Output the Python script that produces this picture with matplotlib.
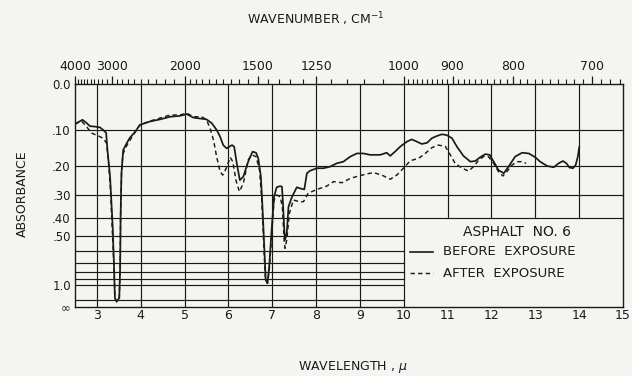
import numpy as np
import matplotlib
matplotlib.use("Agg")
import matplotlib.pyplot as plt
from matplotlib.lines import Line2D

# ---------------- data (wavelength in microns, absorbance) ----------------
wl_before = [2.50, 2.67, 2.76, 2.84, 2.95, 3.07, 3.14, 3.21, 3.24, 3.30, 3.36, 3.39, 3.41,
             3.45, 3.51, 3.53, 3.54, 3.56, 3.60, 3.68, 3.75, 3.87, 3.98, 4.21, 4.44, 4.67,
             4.89, 5.05, 5.20, 5.35, 5.50, 5.62, 5.73, 5.81, 5.88, 5.96, 6.08, 6.13, 6.19,
             6.26, 6.34, 6.45, 6.55, 6.63, 6.68, 6.74, 6.78, 6.82, 6.85, 6.89, 6.93, 6.99,
             7.04, 7.10, 7.18, 7.22, 7.24, 7.27, 7.29, 7.33, 7.37, 7.45, 7.56, 7.63, 7.73,
             7.79, 7.86, 8.02, 8.17, 8.32, 8.47, 8.62, 8.78, 8.93, 9.08, 9.23, 9.46, 9.61,
             9.69, 9.80, 9.92, 10.07, 10.18, 10.30, 10.41, 10.53, 10.64, 10.76, 10.87, 10.98,
             11.10, 11.21, 11.36, 11.52, 11.63, 11.74, 11.86, 11.96, 12.05, 12.16, 12.28,
             12.39, 12.54, 12.70, 12.85, 13.00, 13.11, 13.27, 13.42, 13.53, 13.63, 13.71,
             13.78, 13.86, 13.92, 13.97, 14.00]
abs_before = [0.086, 0.076, 0.083, 0.091, 0.092, 0.094, 0.100, 0.107, 0.152, 0.233, 0.444,
              0.743, 1.39, 1.62, 1.39, 0.743, 0.393, 0.221, 0.152, 0.134, 0.120, 0.105, 0.088,
              0.080, 0.075, 0.069, 0.067, 0.063, 0.071, 0.073, 0.075, 0.084, 0.100, 0.117,
              0.139, 0.148, 0.139, 0.143, 0.191, 0.245, 0.233, 0.186, 0.157, 0.160, 0.176,
              0.233, 0.362, 0.592, 0.917, 0.974, 0.743, 0.444, 0.306, 0.270, 0.266, 0.268,
              0.319, 0.444, 0.522, 0.481, 0.347, 0.306, 0.270, 0.274, 0.278, 0.222, 0.214,
              0.206, 0.206, 0.201, 0.191, 0.186, 0.171, 0.162, 0.162, 0.166, 0.166, 0.160,
              0.169, 0.157, 0.143, 0.130, 0.124, 0.130, 0.136, 0.133, 0.121, 0.115, 0.111,
              0.113, 0.121, 0.143, 0.169, 0.186, 0.184, 0.173, 0.164, 0.166, 0.186, 0.212,
              0.222, 0.201, 0.171, 0.160, 0.162, 0.173, 0.186, 0.199, 0.203, 0.191, 0.184,
              0.191, 0.204, 0.206, 0.196, 0.171, 0.145]

wl_after = [2.50, 2.65, 2.76, 2.88, 3.03, 3.14, 3.22, 3.26, 3.31, 3.35, 3.39, 3.41, 3.45,
            3.51, 3.53, 3.54, 3.56, 3.59, 3.64, 3.71, 3.80, 3.98, 4.21, 4.44, 4.67, 4.89,
            5.05, 5.20, 5.39, 5.50, 5.58, 5.66, 5.73, 5.81, 5.87, 5.95, 6.04, 6.10, 6.17,
            6.25, 6.34, 6.45, 6.53, 6.63, 6.71, 6.76, 6.80, 6.84, 6.89, 6.93, 6.99, 7.04,
            7.10, 7.18, 7.23, 7.27, 7.29, 7.33, 7.39, 7.48, 7.63, 7.71, 7.82, 8.02, 8.24,
            8.40, 8.59, 8.78, 8.97, 9.16, 9.31, 9.50, 9.69, 9.84, 9.99, 10.15, 10.34, 10.49,
            10.64, 10.79, 10.95, 11.06, 11.17, 11.33, 11.48, 11.59, 11.71, 11.82, 11.93,
            12.05, 12.16, 12.26, 12.35, 12.47, 12.58, 12.70, 12.79]
abs_after = [0.086, 0.079, 0.092, 0.108, 0.115, 0.121, 0.134, 0.181, 0.280, 0.462, 0.757,
             1.39, 1.62, 1.39, 0.743, 0.393, 0.228, 0.166, 0.150, 0.134, 0.118, 0.088, 0.079,
             0.072, 0.065, 0.065, 0.061, 0.069, 0.069, 0.076, 0.096, 0.126, 0.171, 0.217,
             0.228, 0.206, 0.173, 0.186, 0.245, 0.286, 0.256, 0.181, 0.166, 0.171, 0.212,
             0.319, 0.522, 0.867, 0.974, 0.780, 0.481, 0.319, 0.299, 0.306, 0.347, 0.522,
             0.580, 0.522, 0.377, 0.319, 0.326, 0.326, 0.292, 0.278, 0.266, 0.250, 0.254,
             0.239, 0.231, 0.224, 0.220, 0.228, 0.242, 0.228, 0.206, 0.183, 0.176, 0.162,
             0.146, 0.139, 0.143, 0.166, 0.191, 0.206, 0.215, 0.201, 0.181, 0.171, 0.171,
             0.191, 0.217, 0.231, 0.217, 0.196, 0.186, 0.186, 0.191]

x_ticks = list(range(3, 16))
y_tick_abs = [0.0, 0.1, 0.2, 0.3, 0.4, 0.5, 1.0]
y_tick_labels = ["0.0", ".10", ".20", ".30", ".40", ".50", "1.0"]
grid_abs_full = [0.1, 0.2, 0.3, 0.4]
grid_abs_left = [0.5, 0.6, 0.7, 0.8, 0.9, 1.0, 1.5]
wn_major = [4000, 3000, 2000, 1500, 1250, 1000, 900, 800, 700]
wn_minor = ([w for w in range(3900, 2000, -100)] +
            [w for w in range(1950, 1000, -50) if w not in (1500, 1250)] +
            [w for w in range(990, 665, -10) if w not in (900, 800, 700)])

legend_title = "ASPHALT  NO. 6"
legend_labels = ["BEFORE  EXPOSURE", "AFTER  EXPOSURE"]

# ---------------- figure ----------------
bg = "#f4f4f1"
ink = "#1a1a1a"
plt.rcParams["font.family"] = ["DejaVu Sans"]

fig = plt.figure(figsize=(6.32, 3.76), dpi=100, facecolor=bg)
ax = fig.add_axes([75 / 632, 1 - 307 / 376, 548 / 632, 223 / 376], facecolor=bg)

def to_T(a):
    return 10.0 ** (-np.asarray(a, dtype=float))

xmin, xmax, xsplit = 2.5, 15.0, 10.0

# grid
for a in grid_abs_full:
    ax.plot([xmin, xmax], [to_T(a)] * 2, color=ink, lw=0.85, zorder=1)
for a in grid_abs_left:
    ax.plot([xmin, xsplit], [to_T(a)] * 2, color=ink, lw=0.85, zorder=1)
for x in x_ticks[:-1]:
    y0 = 0.0 if x <= xsplit else to_T(0.4)
    ax.plot([x, x], [y0, 1.0], color=ink, lw=0.85, zorder=1)

# curves
ax.plot(wl_before, to_T(abs_before), color=ink, lw=1.25, zorder=3,
        solid_joinstyle="round")
ax.plot(wl_after, to_T(abs_after), color=ink, lw=1.05, zorder=3,
        linestyle=(0, (3.0, 2.2)))

ax.set_xlim(xmin, xmax)
ax.set_ylim(0, 1)
for s in ax.spines.values():
    s.set_color(ink)
    s.set_linewidth(1.0)

ax.set_xticks(x_ticks)
ax.set_xticklabels([str(t) for t in x_ticks])
ax.set_yticks(list(to_T(y_tick_abs)) + [0.0])
ax.set_yticklabels(y_tick_labels + ["\u221e"])
ax.tick_params(axis="x", length=0, pad=1.5, labelsize=9, colors=ink)
ax.tick_params(axis="y", length=0, pad=3, labelsize=8.5, colors=ink)

# top wavenumber axis
ax2 = ax.twiny()
ax2.set_xlim(xmin, xmax)
ax2.set_xticks([1e4 / w for w in wn_major])
ax2.set_xticklabels([str(w) for w in wn_major])
ax2.set_xticks([1e4 / w for w in wn_minor], minor=True)
ax2.tick_params(axis="x", which="major", direction="out", length=6, width=0.9,
                pad=2, labelsize=9, colors=ink)
ax2.tick_params(axis="x", which="minor", direction="out", length=3.5, width=0.8,
                colors=ink)
for s in ax2.spines.values():
    s.set_visible(False)

# legend (hand drawn in the figure)
ax.add_line(Line2D([0.611, 0.653], [0.247, 0.247], transform=ax.transAxes,
                   color=ink, lw=1.2))
ax.add_line(Line2D([0.611, 0.653], [0.152, 0.152], transform=ax.transAxes,
                   color=ink, lw=1.05, linestyle=(0, (3.0, 2.2))))
ax.text(0.807, 0.336, legend_title, transform=ax.transAxes, ha="center",
        va="center", fontsize=10, color=ink)
ax.text(0.672, 0.247, legend_labels[0], transform=ax.transAxes, ha="left",
        va="center", fontsize=9.5, color=ink)
ax.text(0.672, 0.152, legend_labels[1], transform=ax.transAxes, ha="left",
        va="center", fontsize=9.5, color=ink)

# axis titles
fig.text(0.5, 1 - 19 / 376, "WAVENUMBER , CM$^{-1}$", ha="center", va="center",
         fontsize=9, color=ink)
fig.text(22 / 632, 1 - 194 / 376, "ABSORBANCE", ha="center", va="center",
         rotation=90, fontsize=9, color=ink)
fig.text(353 / 632, 1 - 367 / 376, "WAVELENGTH , $\\mu$", ha="center", va="center",
         fontsize=9, color=ink)

fig.savefig("out.png", dpi=100, facecolor=bg)
